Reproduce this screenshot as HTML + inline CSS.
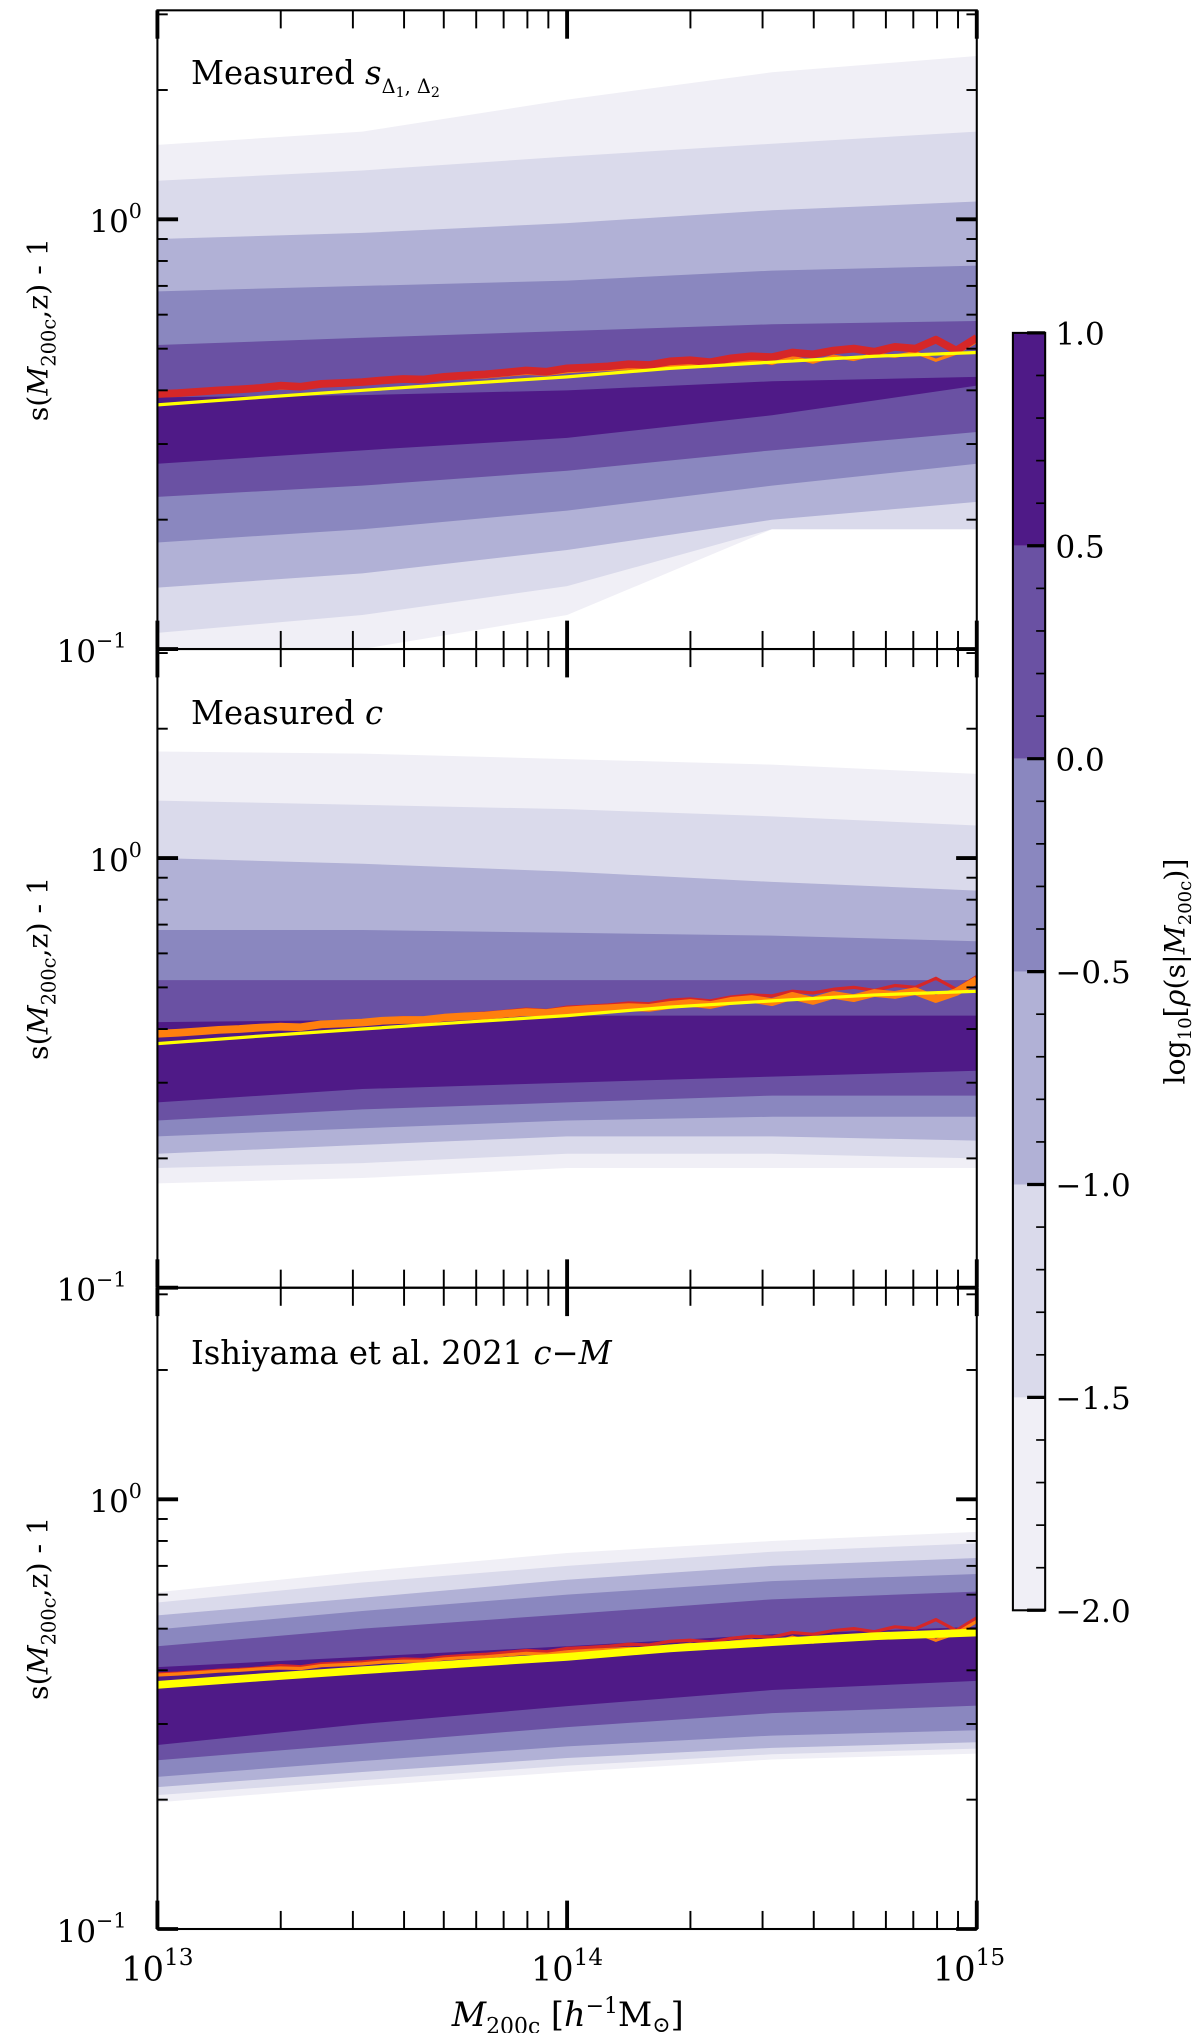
<!DOCTYPE html>
<html><head><meta charset="utf-8"><style>
html,body{margin:0;padding:0;background:#fff;}
svg{display:block;}
text{font-family:"DejaVu Serif","Liberation Serif",serif;fill:#000;}
</style></head>
<body>
<svg id="fig" width="1200" height="2033" viewBox="0 0 930 1575.6" preserveAspectRatio="none" xmlns="http://www.w3.org/2000/svg"></svg>
<script>
// ---- data ----
const levelValues = [-2.0, -1.5, -1.0, -0.5, 0.0, 0.5];
const levelColors = ["#f0eff6", "#dadaeb", "#b1b1d6", "#8a87bf", "#6a51a3", "#4f1a87"];
const cbarTickLabels = ["1.0", "0.5", "0.0", "\u22120.5", "\u22121.0", "\u22121.5", "\u22122.0"];
const bandLogM = [13, 13.5, 14, 14.5, 15];
// panel 1 (measured s)
const p1Upper = [[1.49,1.6,1.9,2.2,2.4],[1.23,1.3,1.4,1.5,1.6],[0.90,0.93,0.98,1.05,1.1],[0.68,0.70,0.72,0.76,0.78],[0.51,0.53,0.55,0.57,0.58],[0.385,0.39,0.40,0.42,0.43]];
const p1Lower = [[0.09,0.10,0.12,0.19,0.19],[0.109,0.12,0.14,0.19,0.19],[0.139,0.15,0.17,0.20,0.22],[0.177,0.19,0.21,0.24,0.27],[0.226,0.24,0.26,0.29,0.32],[0.27,0.29,0.31,0.35,0.41]];
// panel 2 (measured c)
const p2Upper = [[1.77,1.75,1.7,1.65,1.57],[1.36,1.33,1.3,1.25,1.19],[1.0,0.97,0.93,0.88,0.84],[0.68,0.68,0.67,0.66,0.64],[0.52,0.52,0.52,0.52,0.52],[0.415,0.42,0.43,0.43,0.43]];
const p2Lower = [[0.175,0.18,0.19,0.19,0.19],[0.19,0.195,0.205,0.205,0.20],[0.205,0.215,0.225,0.225,0.22],[0.225,0.235,0.245,0.25,0.25],[0.245,0.26,0.27,0.28,0.28],[0.27,0.29,0.30,0.31,0.32]];
// panel 3 (Ishiyama model)
const p3Upper = [[0.608,0.68,0.75,0.80,0.84],[0.575,0.64,0.70,0.755,0.79],[0.537,0.59,0.65,0.70,0.73],[0.498,0.55,0.60,0.645,0.67],[0.455,0.50,0.54,0.585,0.61],[0.407,0.43,0.455,0.485,0.505]];
const p3Lower = [[0.197,0.215,0.232,0.248,0.256],[0.205,0.222,0.24,0.255,0.263],[0.214,0.232,0.25,0.264,0.272],[0.226,0.246,0.266,0.282,0.290],[0.247,0.27,0.295,0.318,0.331],[0.268,0.30,0.33,0.36,0.378]];
// median lines
const medLogM = [13,13.05,13.1,13.15,13.2,13.25,13.3,13.35,13.4,13.45,13.5,13.55,13.6,13.65,13.7,13.75,13.8,13.85,13.9,13.95,14,14.05,14.1,14.15,14.2,14.25,14.3,14.35,14.4,14.45,14.5,14.55,14.6,14.65,14.7,14.75,14.8,14.85,14.9,14.95,15];
const redMedian = [0.392,0.394,0.397,0.400,0.402,0.405,0.410,0.408,0.414,0.416,0.418,0.422,0.425,0.424,0.430,0.433,0.436,0.440,0.445,0.442,0.450,0.452,0.455,0.460,0.458,0.467,0.470,0.465,0.475,0.480,0.478,0.490,0.485,0.495,0.500,0.492,0.505,0.500,0.525,0.495,0.530];
const orangeMedian = [0.390,0.392,0.395,0.398,0.400,0.403,0.405,0.404,0.410,0.412,0.414,0.418,0.420,0.420,0.425,0.428,0.430,0.434,0.438,0.436,0.442,0.445,0.447,0.450,0.448,0.455,0.460,0.455,0.465,0.470,0.462,0.478,0.465,0.480,0.472,0.485,0.480,0.490,0.470,0.488,0.520];
const modelLogM = [13, 13.25, 13.5, 13.75, 14, 14.25, 14.5, 14.75, 15];
const modelS = [0.37, 0.385, 0.40, 0.415, 0.43, 0.45, 0.465, 0.48, 0.49];
const panelTitles = ["Measured", "Measured", "Ishiyama et al. 2021"];

// ---- layout ----
const NS = "http://www.w3.org/2000/svg";
const svg = document.getElementById("fig");
const X0 = 122, X1 = 757;
const panels = [{top:8,bot:503},{top:503,bot:998},{top:998,bot:1495}];
const DEC = 333;
function xs(lm){ return X0 + (lm-13)/2*(X1-X0); }
function mk(tag, attrs, parent){ const e=document.createElementNS(NS,tag); for(const k in attrs) e.setAttribute(k,attrs[k]); (parent||svg).appendChild(e); return e; }

function drawPanel(pi, upper, lower, lines){
  const p = panels[pi];
  const ys = s => p.bot - (Math.log10(s)+1)*DEC;
  const g = mk("g",{});
  
  
  const cid = "clip"+pi;
  const cp = mk("clipPath",{id:cid}, g);
  mk("rect",{x:X0,y:p.top,width:X1-X0,height:p.bot-p.top},cp);
  const bands = mk("g",{"clip-path":"url(#"+cid+")"}, g);
  for(let i=0;i<levelValues.length;i++){
    let pts=[];
    for(let j=0;j<bandLogM.length;j++) pts.push(xs(bandLogM[j]).toFixed(1)+","+ys(upper[i][j]).toFixed(1));
    for(let j=bandLogM.length-1;j>=0;j--) pts.push(xs(bandLogM[j]).toFixed(1)+","+ys(lower[i][j]).toFixed(1));
    const poly = mk("polygon",{points:pts.join(" "),fill:levelColors[i]}, bands);
    
    
  }
  for(const L of lines){
    const pts = L.x.map((v,k)=>xs(v).toFixed(1)+","+ys(L.y[k]).toFixed(1)).join(" ");
    const pl = mk("polyline",{points:pts,fill:"none",stroke:L.c,"stroke-width":L.w,"stroke-linejoin":"round"}, bands);
    
    
  }
  mk("rect",{x:X0,y:p.top,width:X1-X0,height:p.bot-p.top,fill:"none",stroke:"#000","stroke-width":1.6}, g);
  for(let d=-1; d<=0; d++){
    for(let m=1;m<=9;m++){
      const v=m*Math.pow(10,d); const y=ys(v);
      if(y<p.top-0.5||y>p.bot+0.5) continue;
      const len = m===1?16:8, w=m===1?3:1.5;
      mk("line",{x1:X0,x2:X0+len,y1:y,y2:y,stroke:"#000","stroke-width":w},g);
      mk("line",{x1:X1,x2:X1-len,y1:y,y2:y,stroke:"#000","stroke-width":w},g);
    }
  }
  const l0 = mk("text",{x:110,y:ys(1)+10,"font-size":24,"text-anchor":"end"},g);
  l0.innerHTML = '10<tspan dy="-11" font-size="16">0</tspan>';
  
  
  const l1 = mk("text",{x:98,y:p.bot+10,"font-size":24,"text-anchor":"end"},g);
  l1.innerHTML = '10<tspan dy="-11" font-size="16">\u22121</tspan>';
  
  
  for(let d=13; d<=15; d++){
    for(let m=1;m<=9;m++){
      if(d===15 && m>1) break;
      const x = xs(d+Math.log10(m));
      const len = m===1?22:14, w=m===1?3:1.5;
      mk("line",{x1:x,x2:x,y1:p.bot,y2:p.bot-len,stroke:"#000","stroke-width":w},g);
      mk("line",{x1:x,x2:x,y1:p.top,y2:p.top+len,stroke:"#000","stroke-width":w},g);
    }
  }
  const yl = mk("text",{transform:"translate(37,"+((p.top+p.bot)/2)+") rotate(-90)","font-size":22,"text-anchor":"middle"},g);
  yl.innerHTML = 's(<tspan font-style="italic">M</tspan><tspan dy="6" font-size="15">200c</tspan><tspan dy="-6">,z) - 1</tspan>';
  
  
  return {g, p};
}

drawPanel(0, p1Upper, p1Lower, [
  {x:medLogM,y:orangeMedian,c:"#ff7f0e",w:2.5,n:"orange-median-line"},
  {x:medLogM,y:redMedian,c:"#d62728",w:6,n:"red-median-line"},
  {x:modelLogM,y:modelS,c:"#ffff00",w:2.5,n:"model-line"}]);
drawPanel(1, p2Upper, p2Lower, [
  {x:medLogM,y:redMedian,c:"#d62728",w:2.5,n:"red-median-line"},
  {x:medLogM,y:orangeMedian,c:"#ff7f0e",w:6,n:"orange-median-line"},
  {x:modelLogM,y:modelS,c:"#ffff00",w:2.5,n:"model-line"}]);
drawPanel(2, p3Upper, p3Lower, [
  {x:medLogM,y:redMedian,c:"#d62728",w:2.5,n:"red-median-line"},
  {x:medLogM,y:orangeMedian,c:"#ff7f0e",w:2.5,n:"orange-median-line"},
  {x:modelLogM,y:modelS,c:"#ffff00",w:6,n:"model-line"}]);

const t1 = mk("text",{x:148,y:65,"font-size":25});
t1.innerHTML = panelTitles[0]+' <tspan font-style="italic">s</tspan><tspan dy="7" font-size="15">\u0394<tspan dy="3" font-size="11">1</tspan><tspan dy="-3">, \u0394</tspan><tspan dy="3" font-size="11">2</tspan></tspan>';


const t2 = mk("text",{x:148,y:561,"font-size":25});
t2.innerHTML = panelTitles[1]+' <tspan font-style="italic">c</tspan>';


const t3 = mk("text",{x:148,y:1057,"font-size":25});
t3.innerHTML = panelTitles[2]+' <tspan font-style="italic">c</tspan>\u2212<tspan font-style="italic">M</tspan>';



const xlab = [13,14,15];
for(const d of xlab){
  const t = mk("text",{x:xs(d)-(d===15?6:0),y:1535,"font-size":26,"text-anchor":"middle"});
  t.innerHTML = '10<tspan dy="-12" font-size="18">'+d+'</tspan>';
  
  
}
const xt = mk("text",{x:440,y:1570,"font-size":26,"text-anchor":"middle"});
xt.innerHTML = '<tspan font-style="italic">M</tspan><tspan dy="6" font-size="17">200c</tspan><tspan dy="-6"> [</tspan><tspan font-style="italic">h</tspan><tspan dy="-10" font-size="17">\u22121</tspan><tspan dy="10">M</tspan><tspan dy="5" font-size="17">\u2299</tspan><tspan dy="-5">]</tspan>';



const CB = {x:785, w:25, top:258, bot:1248};
const cbg = mk("g",{});


const cy = v => CB.bot - (v+2)/3*(CB.bot-CB.top);
for(let i=0;i<levelValues.length;i++){
  const y1 = cy(levelValues[i]+0.5), y2 = cy(levelValues[i]);
  const r = mk("rect",{x:CB.x,y:y1,width:CB.w,height:y2-y1,fill:levelColors[i]},cbg);
  
  
}
mk("rect",{x:CB.x,y:CB.top,width:CB.w,height:CB.bot-CB.top,fill:"none",stroke:"#000","stroke-width":1.6},cbg);
for(let k=0;k<=30;k++){
  const v = -2 + k*0.1; const y = cy(v);
  const major = k%5===0;
  mk("line",{x1:CB.x+CB.w,x2:CB.x+CB.w-(major?14:7),y1:y,y2:y,stroke:"#000","stroke-width":major?2.5:1.3},cbg);
}
for(let i=0;i<cbarTickLabels.length;i++){
  const v = 1 - i*0.5;
  const t = mk("text",{x:818,y:cy(v)+9,"font-size":24},cbg);
  t.textContent = cbarTickLabels[i];
  
  
}
const cbt = mk("text",{transform:"translate(918,753) rotate(-90)","font-size":22,"text-anchor":"middle"},cbg);
cbt.innerHTML = 'log<tspan dy="5" font-size="14">10</tspan><tspan dy="-5">[</tspan><tspan font-style="italic">\u03c1</tspan>(s|<tspan font-style="italic">M</tspan><tspan dy="5" font-size="14">200c</tspan><tspan dy="-5">)]</tspan>';


</script>
</body></html>
